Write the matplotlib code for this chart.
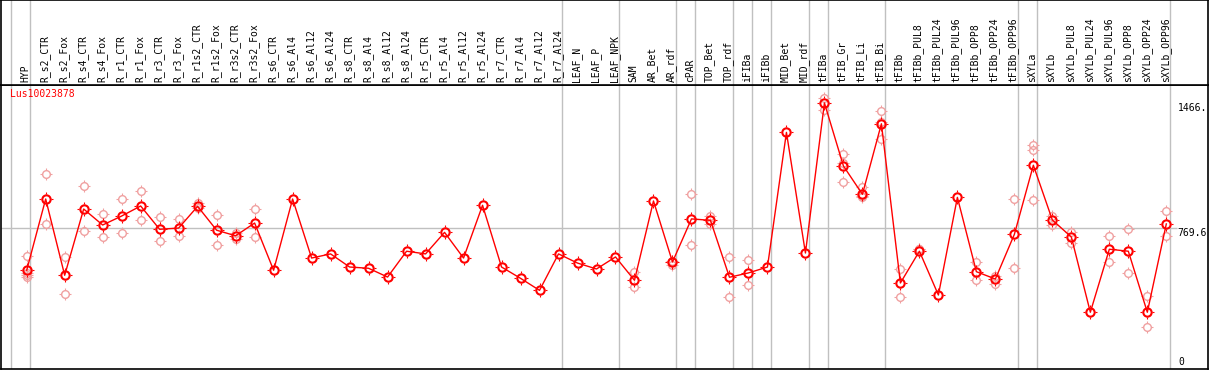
import matplotlib
matplotlib.use('Agg')
import matplotlib.pyplot as plt
from matplotlib.path import Path
import numpy as np

gene = "Lus10023878"

samples = ["HYP", "R_s2_CTR", "R_s2_Fox", "R_s4_CTR", "R_s4_Fox", "R_r1_CTR", "R_r1_Fox",
           "R_r3_CTR", "R_r3_Fox", "R_r1s2_CTR", "R_r1s2_Fox", "R_r3s2_CTR", "R_r3s2_Fox",
           "R_s6_CTR", "R_s6_Al4", "R_s6_Al12", "R_s6_Al24", "R_s8_CTR", "R_s8_Al4",
           "R_s8_Al12", "R_s8_Al24", "R_r5_CTR", "R_r5_Al4", "R_r5_Al12", "R_r5_Al24",
           "R_r7_CTR", "R_r7_Al4", "R_r7_Al12", "R_r7_Al24", "LEAF_N", "LEAF_P", "LEAF_NPK",
           "SAM", "AR_Bet", "AR_rdf", "cPAR", "TOP_Bet", "TOP_rdf", "iFIBa", "iFIBb",
           "MID_Bet", "MID_rdf", "tFIBa", "tFIB_Gr", "tFIB_Li", "tFIB_Bi", "tFIBb",
           "tFIBb_PUL8", "tFIBb_PUL24", "tFIBb_PUL96", "tFIBb_OPP8", "tFIBb_OPP24",
           "tFIBb_OPP96", "sXYLa", "sXYLb", "sXYLb_PUL8", "sXYLb_PUL24", "sXYLb_PUL96",
           "sXYLb_OPP8", "sXYLb_OPP24", "sXYLb_OPP96"]

means = [534, 931, 506, 875, 786, 836, 892, 762, 769, 890, 757, 726, 797,
         534, 931, 602, 625, 552, 545, 496, 640, 625, 745, 602, 896,
         552, 489, 422, 625, 574, 541, 608,
         478, 920, 580, 820, 812, 495, 519, 552, 1302, 630,
         1466, 1115, 957, 1350, 463, 640, 396, 940, 526, 485, 734,
         1119, 814, 719, 300, 651, 640, 300, 792]

replicates = {
    0: [613, 519, 508, 496], 1: [1070, 790], 2: [608, 400], 3: [1002, 751],
    4: [846, 718], 5: [929, 740], 6: [975, 812], 7: [829, 695], 8: [818, 725],
    9: [910, 879], 10: [840, 675], 11: [740, 710], 12: [875, 718],
    32: [524, 439], 34: [587, 563], 35: [957, 673], 36: [838, 790],
    37: [608, 383], 38: [589, 450], 42: [1494, 1427], 43: [1182, 1130, 1024],
    44: [996, 940, 948], 45: [1419, 1360, 1267], 46: [541, 383], 47: [654, 651],
    50: [578, 481], 51: [504, 459], 52: [929, 545], 53: [1230, 1204, 924],
    54: [835, 786], 55: [745, 687], 57: [723, 578], 58: [762, 519],
    59: [389, 216], 60: [864, 725],
}

# group separators sit just right of these sample indices
group_ends = [-1, 0, 28, 31, 34, 35, 37, 38, 39, 41, 42, 45, 52, 53, 60]
y_max = 1466
y_mid = 769.6

# four short ticks around the circle markers
t = 1.35
ticks = Path([(1, 0), (t, 0), (-1, 0), (-t, 0), (0, 1), (0, t), (0, -1), (0, -t)],
             [Path.MOVETO, Path.LINETO] * 4)

W, H = 1209, 370
fig = plt.figure(figsize=(W / 100, H / 100), dpi=100)
mono = 'DejaVu Sans Mono'

x0, x1 = 1, 1208
ytop, ysep, ybot = 0, 85, 369
ax = fig.add_axes([x0 / W, (H - ybot) / H, (x1 - x0) / W, (ybot - ysep) / H])
hd = fig.add_axes([x0 / W, (H - ysep) / H, (x1 - x0) / W, (ysep - ytop) / H], sharex=ax)

px = 19.0  # pixels per sample
ax.set_xlim(-25.7 / px, 60 + 41.7 / px)
ax.set_ylim(-16.2, 1566)

for a in (ax, hd):
    a.set_xticks([])
    a.set_yticks([])
    for s in a.spines.values():
        s.set_color('black')
        s.set_linewidth(1.2)
    for g in group_ends:
        a.axvline(g + 0.2, color='#c0c0c0', lw=1, zorder=1)
hd.set_ylim(0, 1)

x_end = 60 + 10.7 / px
ax.hlines(y_mid, ax.get_xlim()[0], x_end, color='#c0c0c0', lw=1, zorder=1)


def draw_marks(x, y, color, ms, mew, z):
    ax.plot(x, y, linestyle='none', marker='o', markersize=ms, mfc='none',
            mec=color, mew=mew, zorder=z)
    ax.plot(x, y, linestyle='none', marker=ticks, markersize=ms * t + mew, mfc='none',
            mec=color, mew=0.8, zorder=z)


rx, ry = [], []
for i, vals in replicates.items():
    rx += [i] * len(vals)
    ry += vals
draw_marks(rx, ry, '#f0a0a0', 5.5, 1.0, 2)

xs = np.arange(len(samples))
ax.plot(xs, means, color='red', lw=1, zorder=3)
draw_marks(xs, means, 'red', 6.0, 1.5, 4)

for i, name in enumerate(samples):
    hd.annotate(name, xy=(i, 0), xycoords=('data', 'axes fraction'),
                xytext=(-1, 3), textcoords='offset pixels', rotation=90,
                ha='center', va='bottom', fontsize=7, family=mono)

ax.annotate(gene, xy=(0, 1), xycoords='axes fraction', xytext=(9, -4),
            textcoords='offset pixels', ha='left', va='top', color='red',
            fontsize=7, family=mono)

xl = 60 + 11.5 / px
ax.text(xl, y_max, '1466.', ha='left', va='top', fontsize=7, family=mono)
ax.text(xl, y_mid, '769.6', ha='left', va='top', fontsize=7, family=mono)
ax.annotate('0', xy=(xl, 0), xycoords=('data', 'axes fraction'), xytext=(1, 2),
            textcoords='offset pixels', ha='left', va='bottom', fontsize=7, family=mono)

fig.savefig('out.png', dpi=100)
